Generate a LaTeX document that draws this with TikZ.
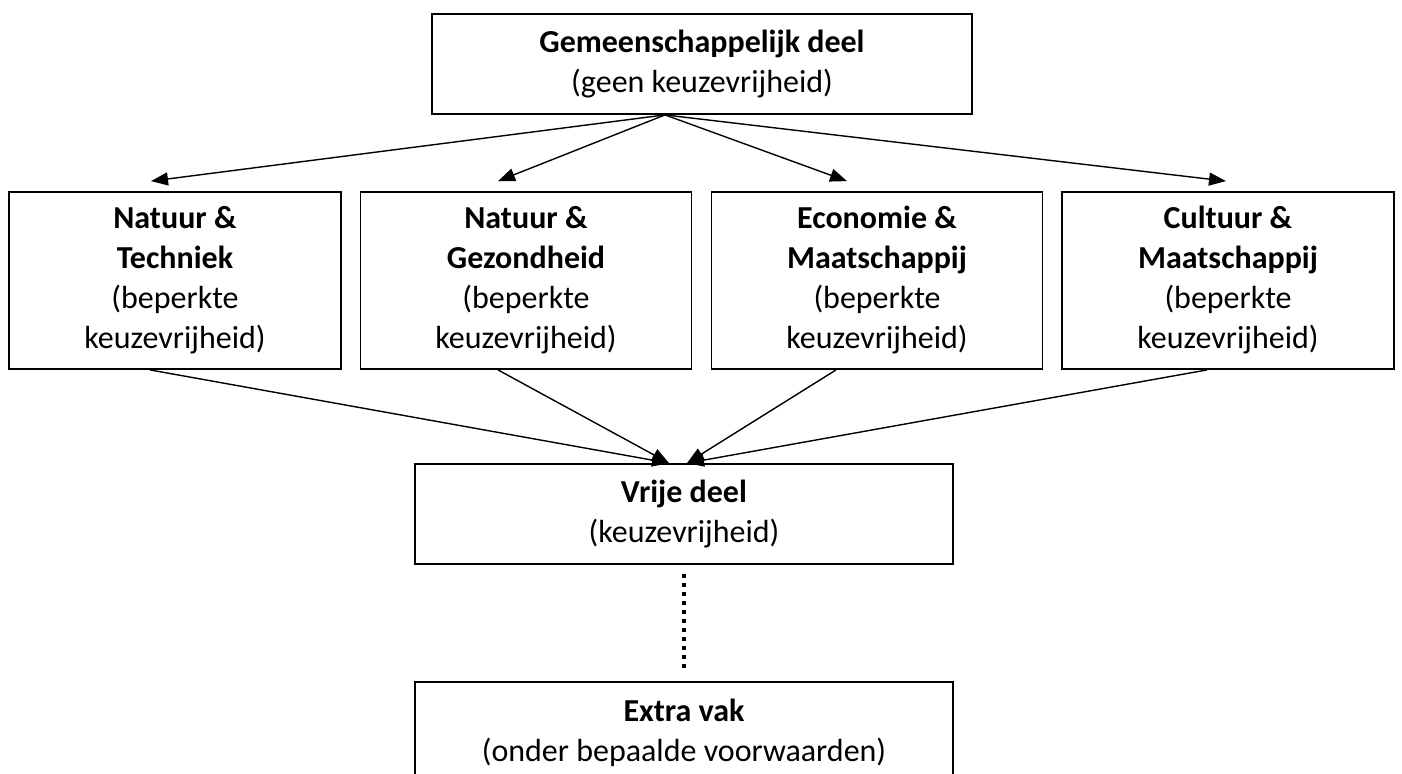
\documentclass[tikz,border=0pt]{standalone}
\usepackage{fontspec}
\setmainfont{Carlito}
\usetikzlibrary{arrows.meta,positioning}

\begin{document}
\begin{tikzpicture}[x=0.5pt,y=-0.5pt,node distance= 175.5pt,
    font=\fontsize{16}{20}\selectfont]
  \useasboundingbox (0,0) rectangle (1402,773);
  \begin{scope}[every node/.style={rectangle,draw,line width=0.9pt,align=center,inner sep=0pt}]
    \node (top)[minimum width=270pt,minimum height=50pt] at (702,64) {\textbf{Gemeenschappelijk deel}\\(geen keuzevrijheid)};
    \node (nt)[minimum width=166pt,minimum height=88.5pt] at (175,280.5) {\textbf{Natuur \&}\\\textbf{Techniek}\\(beperkte\\keuzevrijheid)};
    \node (ng)[minimum width=165.5pt,minimum height=88.5pt] [right of= nt] {\textbf{Natuur \&}\\\textbf{Gezondheid}\\(beperkte\\keuzevrijheid)};
    \node (em)[minimum width=165.5pt,minimum height=88.5pt] [right of= ng] {\textbf{Economie \&}\\\textbf{Maatschappij}\\(beperkte\\keuzevrijheid)};
    \node (cm)[minimum width=166pt,minimum height=88.5pt] [right of= em] {\textbf{Cultuur \&}\\\textbf{Maatschappij}\\(beperkte\\keuzevrijheid)};
    \node (vrij)[minimum width=269pt,minimum height=50pt] at (684,514) {\textbf{Vrije deel}\\(keuzevrijheid)};
    \node (extra)[minimum width=269pt,minimum height=50.5pt] [below of= vrij, node distance=109.25pt] {\textbf{Extra vak}\\(onder bepaalde voorwaarden)};
  \end{scope}
  \coordinate (fork) at ([xshift=-18.5pt]top.south);
  \coordinate (inL) at ([xshift=-7.5pt]vrij.north);
  \coordinate (inR) at ([xshift=1.5pt]vrij.north);
  \begin{scope}
    [every edge/.style={draw= black, line width=0.7pt, -{Triangle[length=8.5pt,width=6.5pt]}}]
    \path (fork) edge ([xshift=-12pt,yshift=5pt]nt.north);
    \path (fork) edge ([xshift=-14pt,yshift=5pt]ng.north);
    \path (fork) edge ([xshift=-15pt,yshift=5pt]em.north);
    \path (fork) edge ([xshift=-1pt,yshift=5pt]cm.north);
    \path ([xshift=-12.5pt]nt.south) edge (inL);
    \path ([xshift=-14pt]ng.south) edge (inL);
    \path ([xshift=-20.5pt]em.south) edge (inR);
    \path ([xshift=-10.5pt]cm.south) edge (inR);
  \end{scope}
  \draw[line width=2.2pt, dash pattern=on 2.25pt off 2.25pt, shorten <=4.5pt, shorten >=4.5pt] (vrij) -- (extra);
\end{tikzpicture}
\end{document}
